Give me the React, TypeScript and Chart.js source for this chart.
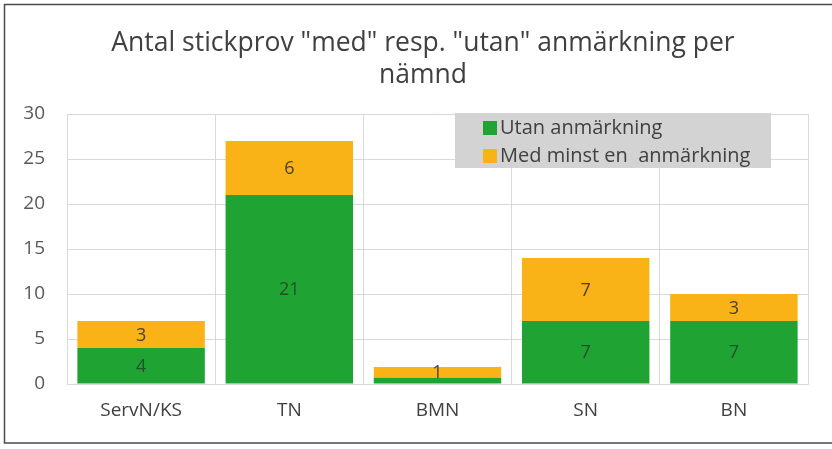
import React, { useEffect, useRef } from "react";
import { Chart, registerables } from "chart.js";

Chart.register(...registerables);

const titleLines = ['Antal stickprov "med" resp. "utan" anmärkning per', "nämnd"];
const categories = ["ServN/KS", "TN", "BMN", "SN", "BN"];
const utanLabel = "Utan anmärkning";
const medLabel = "Med minst en  anmärkning";
const utanValues = [4, 21, 0.7, 7, 7];
const medValues = [3, 6, 1.2, 7, 3];
const yTicks = [0, 5, 10, 15, 20, 25, 30];

const GREEN = "#1fa433";
const ORANGE = "#fab317";
const FONT = "'Open Sans', sans-serif";

const framePlugin = {
  id: "frame",
  beforeDraw(chart: any) {
    const ctx = chart.ctx;
    ctx.save();
    ctx.fillStyle = "#ffffff";
    ctx.fillRect(0, 0, chart.width, chart.height);
    ctx.restore();
  },
  afterDraw(chart: any) {
    const ctx = chart.ctx;
    ctx.save();
    ctx.strokeStyle = "#4a4a4a";
    ctx.lineWidth = 1.5;
    ctx.strokeRect(4.5, 4.5, chart.width + 10, 438.5);
    ctx.fillStyle = "#404040";
    ctx.font = `26.5px ${FONT}`;
    ctx.textAlign = "center";
    ctx.textBaseline = "middle";
    titleLines.forEach((line, i) => ctx.fillText(line, 423, 43 + i * 32));
    ctx.restore();
  },
};

const valueLabelPlugin = {
  id: "valueLabels",
  afterDatasetsDraw(chart: any) {
    const ctx = chart.ctx;
    ctx.save();
    ctx.font = `18px ${FONT}`;
    ctx.textAlign = "center";
    ctx.textBaseline = "middle";
    chart.data.datasets.forEach((ds: any, di: number) => {
      const meta = chart.getDatasetMeta(di);
      meta.data.forEach((bar: any, i: number) => {
        const h = Math.abs(bar.base - bar.y);
        if (h < 9) return;
        ctx.fillStyle = di === 0 ? "#23502a" : "#4a4030";
        ctx.fillText(String(Math.round(ds.data[i])), bar.x, (bar.y + bar.base) / 2 + 1);
      });
    });
    ctx.restore();
  },
};

const legendPlugin = {
  id: "boxLegend",
  afterDraw(chart: any) {
    const ctx = chart.ctx;
    ctx.save();
    ctx.fillStyle = "#d3d3d3";
    ctx.fillRect(455, 113, 316, 55);
    const items = chart.data.datasets.map((d: any) => ({ label: d.label, color: d.backgroundColor }));
    ctx.font = `20px ${FONT}`;
    ctx.textBaseline = "middle";
    ctx.textAlign = "left";
    items.forEach((it: any, i: number) => {
      const cy = 128 + i * 28;
      ctx.fillStyle = it.color;
      ctx.fillRect(483, cy - 7, 14, 14);
      ctx.fillStyle = "#404040";
      ctx.fillText(it.label, 500, cy);
    });
    ctx.restore();
  },
};

export default function App() {
  const ref = useRef<HTMLCanvasElement>(null);
  useEffect(() => {
    if (!ref.current) return;
    const chart = new Chart(ref.current, {
      type: "bar",
      data: {
        labels: categories,
        datasets: [
          { label: utanLabel, data: utanValues, backgroundColor: GREEN, barPercentage: 0.86, categoryPercentage: 1 },
          { label: medLabel, data: medValues, backgroundColor: ORANGE, barPercentage: 0.86, categoryPercentage: 1 },
        ],
      },
      options: {
        responsive: false,
        animation: false,
        layout: { padding: { top: 114, left: 0, right: 24, bottom: 0 } },
        plugins: {
          legend: { display: false },
          tooltip: { enabled: false },
          title: { display: false },
        },
        scales: {
          x: {
            stacked: true,
            offset: true,
            grid: { display: true, offset: true, color: "#d9d9d9", drawTicks: false },
            border: { display: true, color: "#d9d9d9" },
            ticks: { color: "#404040", font: { family: FONT, size: 19 }, padding: 15 },
            afterFit(scale: any) {
              scale.height = 65;
            },
          },
          y: {
            stacked: true,
            min: 0,
            max: 30,
            afterBuildTicks(scale: any) {
              scale.ticks = yTicks.map((v) => ({ value: v }));
            },
            grid: { color: "#d9d9d9", drawTicks: false },
            border: { display: false },
            ticks: { color: "#595959", font: { family: FONT, size: 19 }, padding: 22 },
            afterFit(scale: any) {
              scale.width = 67;
            },
          },
        },
      },
      plugins: [framePlugin, valueLabelPlugin, legendPlugin],
    } as any);
    return () => chart.destroy();
  }, []);
  return (
    <div style={{ position: "fixed", left: 0, top: 0, width: 832, height: 449 }}>
      <canvas ref={ref} width={832} height={449} />
    </div>
  );
}
